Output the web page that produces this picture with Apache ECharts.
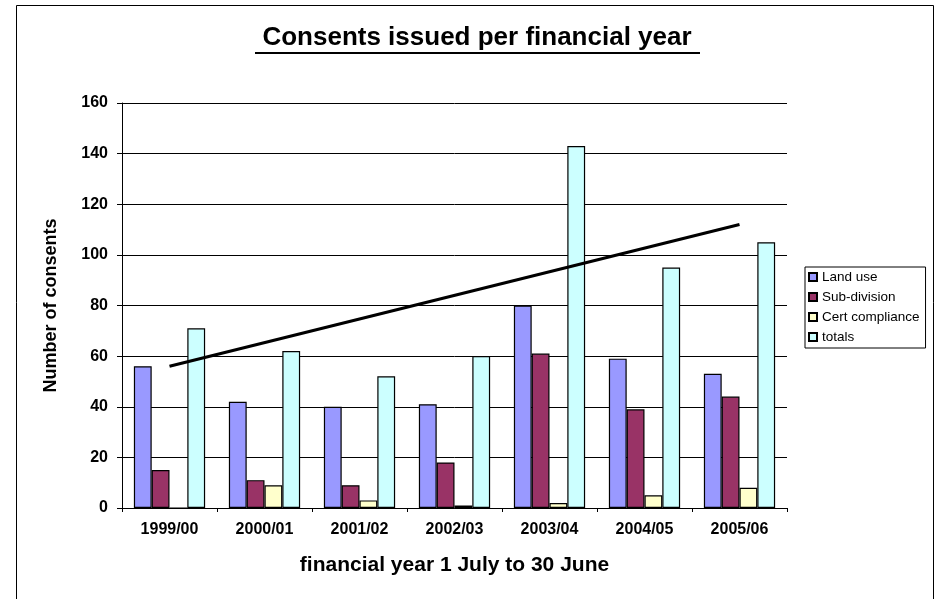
<!DOCTYPE html>
<html>
<head>
<meta charset="utf-8">
<script src="https://cdn.jsdelivr.net/npm/echarts@6/dist/echarts.min.js"></script>
<style>
  html, body { margin: 0; padding: 0; background: #fff; }
  #chart { width: 940px; height: 599px; }
</style>
</head>
<body>
<div id="chart"></div>
<script>
// 数据
const years = ['1999/00', '2000/01', '2001/02', '2002/03', '2003/04', '2004/05', '2005/06']
const landUse = [56, 42, 40, 41, 80, 59, 53]
const subDivision = [15, 11, 9, 18, 61, 39, 44]
const certCompliance = [0, 9, 3, 1, 2, 5, 8]
const totals = [71, 62, 52, 60, 143, 95, 105]
// 趋势线（只读两端）
const trend = [56, null, null, null, null, null, 112]

const FONT = 'Liberation Sans, Arial, sans-serif'

const chart = echarts.init(document.getElementById('chart'))

const barStyle = color => ({ color: color, borderColor: '#000', borderWidth: 1.2 })

const option = {
  animation: false,
  backgroundColor: '#fff',
  textStyle: { fontFamily: FONT },
  title: {
    text: 'Consents issued per financial year',
    left: 477,
    textAlign: 'center',
    top: 25,
    padding: 0,
    textStyle: { fontSize: 26, fontWeight: 'bold', color: '#000', fontFamily: FONT }
  },
  graphic: [
    {
      type: 'rect',
      left: 14, top: 3,
      shape: { width: 917, height: 610 },
      style: { fill: 'none', stroke: '#000', lineWidth: 1 },
      silent: true
    },
    {
      type: 'rect',
      left: 255, top: 52,
      shape: { width: 445, height: 2 },
      style: { fill: '#000' },
      silent: true
    }
  ],
  legend: {
    orient: 'vertical',
    left: 805,
    top: 267,
    itemWidth: 8,
    itemHeight: 8,
    itemGap: 6,
    padding: [3, 6, 4, 3],
    borderColor: '#000',
    borderWidth: 1,
    backgroundColor: '#fff',
    icon: 'rect',
    textStyle: { fontSize: 13.5, color: '#000', fontFamily: FONT, padding: [0, 0, 0, 0] },
    data: ['Land use', 'Sub-division', 'Cert compliance', 'totals']
  },
  grid: { left: 122, right: 153, top: 103, bottom: 91 },
  xAxis: {
    type: 'category',
    data: years,
    name: 'financial year 1 July to 30 June',
    nameLocation: 'middle',
    nameGap: 47,
    nameTextStyle: { fontSize: 21, fontWeight: 'bold', color: '#000', fontFamily: FONT },
    axisLine: { lineStyle: { color: '#000', width: 1 } },
    axisTick: { show: true, length: 4, lineStyle: { color: '#000' } },
    axisLabel: { fontSize: 16, fontWeight: 'bold', color: '#000', margin: 14, fontFamily: FONT }
  },
  yAxis: {
    type: 'value',
    min: 0,
    max: 160,
    interval: 20,
    name: 'Number of consents',
    nameLocation: 'middle',
    nameGap: 62,
    nameTextStyle: { fontSize: 18, fontWeight: 'bold', color: '#000', fontFamily: FONT },
    axisLine: { show: true, lineStyle: { color: '#000', width: 1 } },
    axisTick: { show: true, length: 5, lineStyle: { color: '#000' } },
    axisLabel: { fontSize: 16, fontWeight: 'bold', color: '#000', margin: 14, fontFamily: FONT },
    splitLine: { lineStyle: { color: '#000', width: 1 } }
  },
  series: [
    { name: 'Land use', type: 'bar', data: landUse, itemStyle: barStyle('#9999FF'),
      barGap: '0%', barCategoryGap: '25%' },
    { name: 'Sub-division', type: 'bar', data: subDivision, itemStyle: barStyle('#993366') },
    { name: 'Cert compliance', type: 'bar', data: certCompliance, itemStyle: barStyle('#FFFFCC') },
    { name: 'totals', type: 'bar', data: totals, itemStyle: barStyle('#CCFFFF') },
    {
      name: 'trend',
      type: 'line',
      data: trend,
      connectNulls: true,
      symbol: 'none',
      lineStyle: { color: '#000', width: 3 },
      z: 5
    }
  ]
}

chart.setOption(option)
</script>
</body>
</html>
